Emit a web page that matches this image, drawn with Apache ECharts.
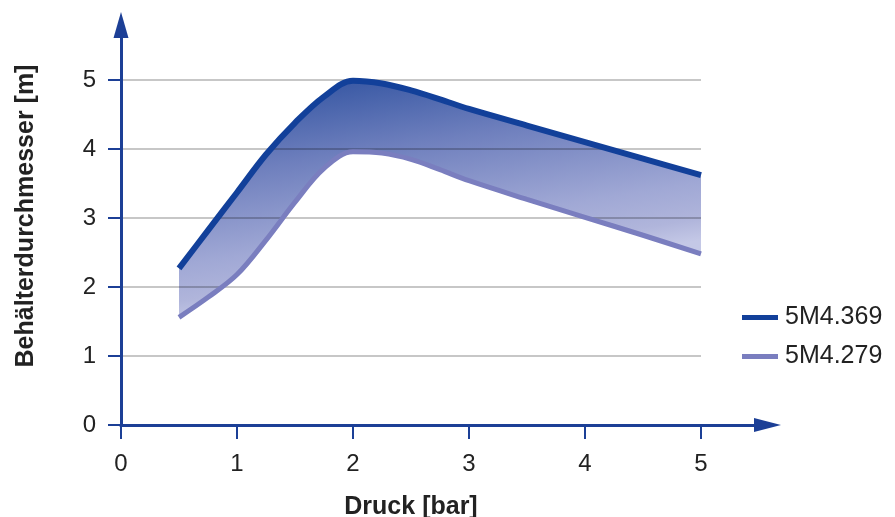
<!DOCTYPE html>
<html>
<head>
<meta charset="utf-8">
<script src="https://cdn.jsdelivr.net/npm/echarts@6/dist/echarts.min.js"></script>
<style>
html,body{margin:0;padding:0;background:#fff;}
#chart{width:895px;height:517px;}
</style>
</head>
<body>
<div id="chart"></div>
<script>
// Data
const pressure = [0.5, 0.75, 1, 1.25, 1.5, 1.75, 2, 2.25, 2.5, 2.75, 3, 3.5, 4, 4.5, 5];
const dia369 = [2.27, 2.82, 3.37, 3.92, 4.38, 4.76, 4.99, 4.95, 4.85, 4.72, 4.58, 4.34, 4.10, 3.86, 3.62];
const dia279 = [1.56, 1.85, 2.18, 2.68, 3.23, 3.72, 3.96, 3.94, 3.85, 3.70, 3.54, 3.27, 3.01, 2.75, 2.48];
const seriesNames = ['5M4.369', '5M4.279'];
const xTicks = [0, 1, 2, 3, 4, 5];
const yTicks = [0, 1, 2, 3, 4, 5];

const axisColor = '#1c3f96';
const textColor = '#222';
const font = 'Liberation Sans';

const chart = echarts.init(document.getElementById('chart'));
const smooth = 0.35;

const option = {
  animation: false,
  backgroundColor: '#fff',
  grid: [
    { left: 121, right: 194, top: 80, bottom: 92, containLabel: false, outerBoundsMode: 'none' },
    { left: 121, right: 127.5, top: 25, bottom: 92, containLabel: false, outerBoundsMode: 'none' }
  ],
  legend: {
    data: seriesNames,
    orient: 'vertical',
    left: 737,
    top: 300,
    itemWidth: 36,
    itemHeight: 5,
    itemGap: 14,
    icon: 'rect',
    textStyle: { fontFamily: font, fontSize: 25, color: textColor, padding: [0, 0, 0, 2] }
  },
  xAxis: [
    {
      gridIndex: 0, type: 'value', min: xTicks[0], max: xTicks[xTicks.length - 1], interval: 1, z: 3,
      axisLine: { show: true, onZero: false, lineStyle: { color: axisColor, width: 3 } },
      axisTick: { show: true, length: 14, lineStyle: { color: axisColor, width: 2 } },
      axisLabel: { margin: 27, fontFamily: font, fontSize: 24, color: textColor },
      splitLine: { show: false },
      name: 'Druck [bar]', nameLocation: 'middle', nameGap: 70,
      nameTextStyle: { fontFamily: font, fontSize: 25, fontWeight: 'bold', color: textColor }
    },
    {
      gridIndex: 1, type: 'value', min: 0, max: 1, z: 3,
      axisLine: { show: true, onZero: false, symbol: ['none', 'triangle'], symbolSize: [14, 27],
        lineStyle: { color: axisColor, width: 3 } },
      axisTick: { show: false }, axisLabel: { show: false }, splitLine: { show: false }
    }
  ],
  yAxis: [
    {
      gridIndex: 0, type: 'value', min: yTicks[0], max: yTicks[yTicks.length - 1], interval: 1, z: 3,
      axisLine: { show: true, onZero: false, lineStyle: { color: axisColor, width: 3 } },
      axisTick: { show: true, length: 13, lineStyle: { color: axisColor, width: 2 } },
      axisLabel: { margin: 25, fontFamily: font, fontSize: 24, color: textColor },
      splitLine: { show: true, lineStyle: { color: 'rgba(0,0,0,0.22)', width: 2 } }
    },
    {
      gridIndex: 1, type: 'value', min: 0, max: 1, z: 3,
      axisLine: { show: true, onZero: false, symbol: ['none', 'triangle'], symbolSize: [15, 26],
        lineStyle: { color: axisColor, width: 3 } },
      axisTick: { show: false }, axisLabel: { show: false }, splitLine: { show: false },
      name: 'Behälterdurchmesser [m]', nameLocation: 'middle', nameGap: 82,
      nameTextStyle: { fontFamily: font, fontSize: 25, fontWeight: 'bold', color: textColor, padding: [0, 0, 0, 18] }
    }
  ],
  series: [
    {
      name: 'base', type: 'line', stack: 'band', xAxisIndex: 0, yAxisIndex: 0, z: 1,
      encode: { x: 1, y: 0 },
      data: pressure.map((x, i) => [dia279[i], x]),
      smooth: smooth, symbol: 'none', silent: true,
      lineStyle: { opacity: 0, width: 0 }
    },
    {
      name: 'band', type: 'line', stack: 'band', xAxisIndex: 0, yAxisIndex: 0, z: 1,
      encode: { x: 1, y: 0 },
      data: pressure.map((x, i) => [+(dia369[i] - dia279[i]).toFixed(4), x]),
      smooth: smooth, symbol: 'none', silent: true,
      lineStyle: { opacity: 0, width: 0 },
      areaStyle: {
        opacity: 1,
        color: new echarts.graphic.LinearGradient(0, 0, 0.072, 1, [
          { offset: 0, color: '#34529f' },
          { offset: 0.14, color: '#3f5da7' },
          { offset: 0.41, color: '#6e7fbd' },
          { offset: 0.76, color: '#a0a8d5' },
          { offset: 0.91, color: '#b0b5db' },
          { offset: 1, color: '#c4c8e6' }
        ])
      }
    },
    {
      name: seriesNames[0], type: 'line', xAxisIndex: 0, yAxisIndex: 0, z: 5,
      data: pressure.map((x, i) => [x, dia369[i]]),
      smooth: smooth, symbol: 'none', color: '#12409a',
      itemStyle: { color: '#12409a' },
      lineStyle: { color: '#12409a', width: 6, cap: 'butt' }
    },
    {
      name: seriesNames[1], type: 'line', xAxisIndex: 0, yAxisIndex: 0, z: 5,
      data: pressure.map((x, i) => [x, dia279[i]]),
      smooth: smooth, symbol: 'none', color: '#7a7ebf',
      itemStyle: { color: '#7a7ebf' },
      lineStyle: { color: '#7a7ebf', width: 5, cap: 'butt' }
    }
  ]
};
chart.setOption(option);
</script>
</body>
</html>
